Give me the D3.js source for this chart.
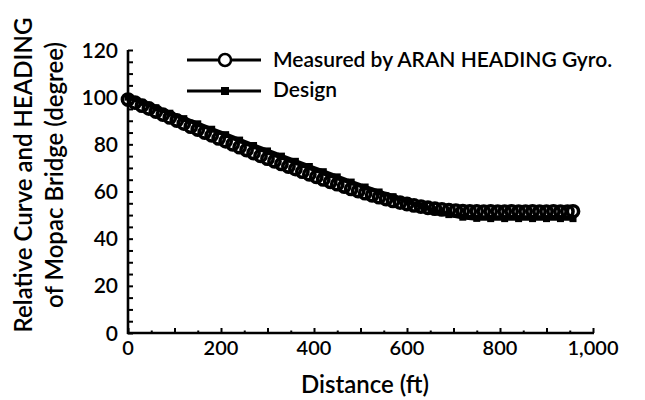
<!DOCTYPE html>
<html><head><meta charset="utf-8">
<script src="https://cdn.jsdelivr.net/npm/d3@7"></script>
<style>
html,body{margin:0;padding:0;background:#fff;}
svg{display:block;font-family:Lato,"Noto Sans",sans-serif;font-weight:600;}
</style></head>
<body>
<svg id="chart" width="645" height="400"></svg>
<script>
// ---- data ----
const measuredDist = [0,15,30,45,60,75,90,105,120,135,150,165,180,195,210,225,240,255,270,285,300,315,330,345,360,375,390,405,420,435,450,465,480,495,510,525,540,555,570,585,600,615,630,645,660,675,690,705,720,735,750,765,780,795,810,825,840,855,870,885,900,915,930,945,957];
const measuredHeading = [99.0,97.7,96.4,95.2,93.9,92.6,91.4,90.1,88.8,87.5,86.3,85.0,83.8,82.5,81.3,80.0,78.8,77.6,76.3,75.1,73.9,72.8,71.7,70.6,69.5,68.4,67.3,66.2,65.1,64.1,63.1,62.1,61.1,60.2,59.3,58.4,57.6,56.8,56.0,55.3,54.7,54.1,53.6,53.1,52.7,52.4,52.1,51.9,51.7,51.6,51.6,51.5,51.6,51.5,51.5,51.6,51.5,51.5,51.6,51.5,51.5,51.6,51.5,51.5,51.6];
const designDist = [0,30,60,90,120,150,180,210,240,270,300,330,360,390,420,450,480,510,540,570,600,630,660,690,720,750,780,810,840,870,900,930,957];
const designHeading = [100,97.8,95.5,93.2,90.9,88.7,86.4,84.1,81.8,79.5,77.2,75.0,72.8,70.6,68.4,66.2,64.0,61.9,59.8,57.8,55.8,53.8,51.8,50.2,49.1,48.6,48.5,48.5,48.5,48.5,48.5,48.5,48.5];
const xTickValues = [0,200,400,600,800,1000];
const yTickValues = [0,20,40,60,80,100,120];
const seriesNames = ["Measured by ARAN HEADING Gyro.","Design"];

// ---- layout ----
const svg = d3.select("#chart");
const x = d3.scaleLinear().domain([0,1000]).range([128,593]);
const y = d3.scaleLinear().domain([0,120]).range([333,50]);

// y axis (ticks inside)
svg.append("g").attr("transform","translate(128,0)")
  .call(d3.axisRight(y).tickValues(d3.range(0,121,5)).tickSize(5).tickFormat(""))
  .call(g=>{g.select(".domain").remove();g.selectAll("line").attr("stroke","#000").attr("stroke-width",2);});
svg.append("line").attr("x1",128).attr("x2",128).attr("y1",y(120)).attr("y2",y(0)+1).attr("stroke","#000").attr("stroke-width",2.6);
// x axis (ticks inside)
svg.append("g").attr("transform","translate(0,333)")
  .call(d3.axisTop(x).tickValues(d3.range(0,1001,100)).tickSize(5).tickFormat(""))
  .call(g=>{g.select(".domain").remove();g.selectAll("line").attr("stroke","#000").attr("stroke-width",2);});
svg.append("g").attr("transform","translate(0,333)")
  .call(d3.axisTop(x).tickValues(d3.range(50,1000,100)).tickSize(2.5).tickFormat(""))
  .call(g=>{g.select(".domain").remove();g.selectAll("line").attr("stroke","#000").attr("stroke-width",2);});
svg.append("line").attr("x1",127).attr("x2",x(1000)+1).attr("y1",333).attr("y2",333).attr("stroke","#000").attr("stroke-width",2.6);

// tick labels
svg.append("g").selectAll("text").data(yTickValues).join("text")
  .attr("x",118).attr("y",d=>y(d)).attr("dy","0.36em").attr("text-anchor","end")
  .attr("font-size",21).text(d=>d3.format(",")(d));
svg.append("g").selectAll("text").data(xTickValues).join("text")
  .attr("x",d=>x(d)).attr("y",355).attr("text-anchor","middle")
  .attr("font-size",20).text(d=>d3.format(",")(d));

// axis titles
svg.append("text").attr("x",365).attr("y",393).attr("text-anchor","middle").attr("font-size",24).text("Distance (ft)");
const yt = svg.append("text").attr("transform","translate(32,175) rotate(-90)").attr("text-anchor","middle").attr("font-size",24);
yt.append("tspan").attr("x",0).attr("y",0).text("Relative Curve and HEADING");
yt.append("tspan").attr("x",0).attr("y",31).text("of Mopac Bridge (degree)");

// measured series (hollow markers)
const mData = measuredDist.map((d,i)=>({x:d,v:measuredHeading[i]}));
const dData = designDist.map((d,i)=>({x:d,v:designHeading[i]}));
const line = d3.line().x(d=>x(d.x)).y(d=>y(d.v));
svg.append("g").selectAll("circle").data(mData).join("circle")
  .attr("cx",d=>x(d.x)).attr("cy",d=>y(d.v)).attr("r",5.6)
  .attr("fill","none").attr("stroke","#000").attr("stroke-width",3.6);
// design series
svg.append("path").datum(dData).attr("d",line).attr("fill","none").attr("stroke","#000").attr("stroke-width",4.5);
svg.append("g").selectAll("rect").data(dData).join("rect")
  .attr("x",d=>x(d.x)-3.5).attr("y",d=>y(d.v)-3.5).attr("width",7).attr("height",7).attr("fill","#000");

// legend
const lg = svg.append("g");
lg.append("line").attr("x1",187).attr("x2",261).attr("y1",60).attr("y2",60).attr("stroke","#000").attr("stroke-width",3);
lg.append("circle").attr("cx",225).attr("cy",60).attr("r",6).attr("fill","#fff").attr("stroke","#000").attr("stroke-width",2.5);
lg.append("text").attr("x",273).attr("y",67).attr("font-size",21).text(seriesNames[0]);
lg.append("line").attr("x1",187).attr("x2",261).attr("y1",91).attr("y2",91).attr("stroke","#000").attr("stroke-width",3);
lg.append("rect").attr("x",221).attr("y",87).attr("width",8).attr("height",8).attr("fill","#000");
lg.append("text").attr("x",273).attr("y",97).attr("font-size",21).text(seriesNames[1]);
</script>
</body></html>
